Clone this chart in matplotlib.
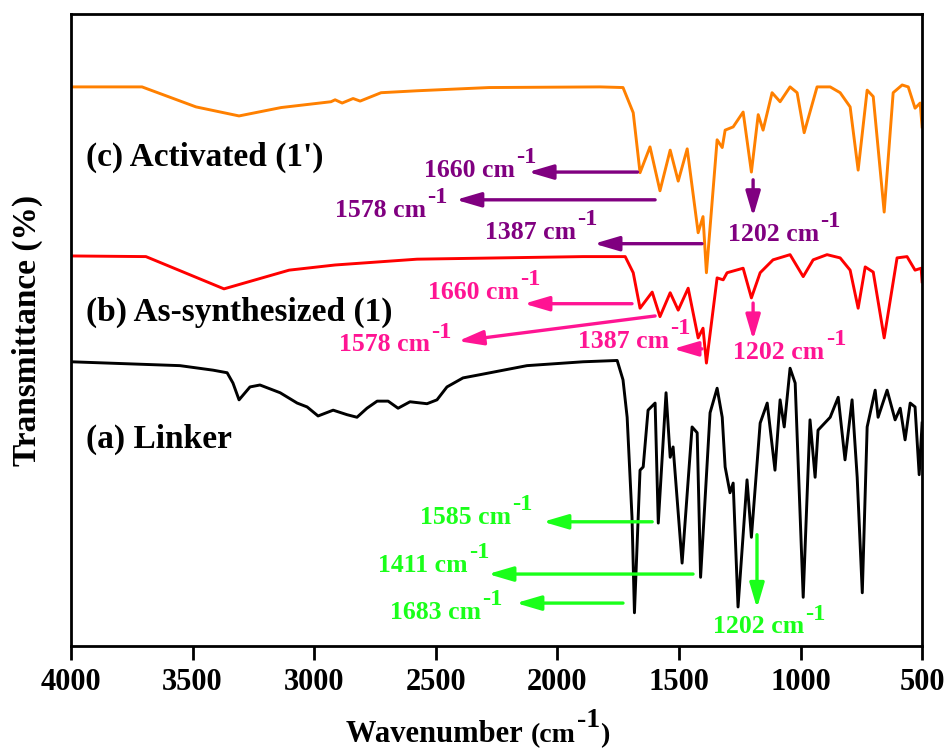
import numpy as np
import matplotlib
matplotlib.use("Agg")
import matplotlib.pyplot as plt

# ---------- DATA (wavenumber in cm-1, transmittance in offset %) ----------
wn_c = [4000, 3708, 3486, 3309, 3136, 2931, 2914, 2885, 2840, 2811, 2725, 2577, 2281, 1824,
        1730, 1688, 1660, 1619, 1578, 1536, 1503, 1466, 1421, 1401, 1387, 1343, 1322, 1310,
        1277, 1236, 1202, 1174, 1154, 1117, 1084, 1043, 1014, 985, 932, 878, 837, 796, 763,
        726, 701, 656, 619, 582, 557, 529, 508, 500]
tr_c = [86.5, 86.5, 83.4, 82.0, 83.3, 84.2, 84.5, 84.0, 84.7, 84.3, 85.6, 85.9, 86.4, 86.5,
        86.4, 82.5, 73.2, 77.2, 70.4, 76.7, 71.9, 76.9, 63.9, 66.4, 57.7, 78.3, 77.1, 79.8,
        80.3, 82.6, 73.3, 82.2, 79.8, 85.6, 84.2, 86.5, 85.6, 79.4, 86.5, 86.5, 85.6, 83.4, 73.6,
        86.0, 85.0, 67.1, 85.6, 86.8, 86.5, 83.2, 84.0, 80.3]

wn_b = [4000, 3692, 3371, 3103, 2914, 2577, 1894, 1721, 1688, 1660, 1610, 1578, 1536, 1503,
        1462, 1421, 1401, 1387, 1343, 1318, 1302, 1236, 1202, 1166, 1113, 1043, 989, 948, 891,
        837, 796, 763, 734, 701, 656, 603, 562, 529, 504, 500]
tr_b = [60.3, 60.2, 55.2, 58.1, 58.9, 59.8, 60.2, 60.2, 57.7, 52.2, 54.7, 50.9, 54.6, 51.9,
        55.3, 47.6, 49.1, 43.7, 56.9, 56.6, 57.7, 58.4, 53.8, 57.7, 59.7, 60.5, 57.1, 59.7, 60.5,
        60.0, 58.1, 52.2, 58.6, 57.8, 47.6, 60.0, 60.2, 58.1, 58.4, 56.3]

wn_a = [4000, 3552, 3416, 3358, 3334, 3309, 3264, 3223, 3140, 3070, 3029, 2984, 2922, 2865,
        2824, 2783, 2741, 2696, 2655, 2606, 2536, 2495, 2454, 2388, 2318, 2125, 1894, 1754,
        1730, 1713, 1693, 1683, 1660, 1647, 1627, 1598, 1585, 1553, 1536, 1524, 1487, 1446,
        1425, 1411, 1372, 1343, 1322, 1310, 1290, 1277, 1257, 1220, 1202, 1166, 1137, 1105,
        1084, 1067, 1043, 1022, 989, 961, 940, 928, 878, 845, 817, 788, 767, 746, 726, 693,
        681, 644, 611, 590, 570, 549, 529, 512, 500]
tr_a = [43.9, 43.3, 42.6, 42.2, 40.6, 38.0, 40.0, 40.3, 39.1, 37.5, 36.9, 35.5, 36.4, 35.7,
        35.3, 36.7, 37.8, 37.8, 36.7, 37.7, 37.4, 38.0, 40.0, 41.4, 41.9, 43.3, 43.9, 44.1,
        41.1, 35.3, 19.8, 5.0, 27.1, 27.6, 36.4, 37.5, 18.9, 39.1, 29.1, 30.7, 12.7, 33.8,
        32.9, 10.5, 36.0, 39.8, 35.3, 27.6, 23.6, 25.1, 5.9, 25.6, 16.7, 34.4, 37.5, 27.1,
        38.0, 33.8, 42.9, 40.6, 7.4, 34.9, 26.0, 33.3, 35.3, 38.4, 28.7, 38.0, 26.0, 8.1, 33.8,
        39.5, 35.3, 39.5, 34.9, 36.7, 31.8, 37.5, 36.9, 26.4, 34.4]

series_names = ["(c) Activated (1')", "(b) As-synthesized (1)", "(a) Linker"]
series_colors = ["#FF8000", "#FF0000", "#000000"]

# ---------- STYLE ----------
plt.rcParams["font.family"] = ["Liberation Serif", "DejaVu Serif"]
plt.rcParams["font.weight"] = "bold"
plt.rcParams["axes.labelweight"] = "bold"

PURPLE, PINK, GREEN = "#800080", "#FF1493", "#1AFF1A"
ANN_FS = 18.5


def label_with_sup(ax, x, y, base, sup, color, fs):
    # main text, then a raised superscript glued to its right edge
    t = ax.text(x, y, base, color=color, fontsize=fs, va="center", ha="left")
    ax.annotate(sup, xy=(1.0, 0.6), xycoords=t, xytext=(1, 0), textcoords="offset points",
                color=color, fontsize=fs * 0.95, va="bottom", ha="left")
    return t


fig = plt.figure(figsize=(9.52, 7.56), dpi=100)
ax = fig.add_axes([0.0746, 0.1455, 0.894, 0.836])

for wn, tr, col in zip([wn_c, wn_b, wn_a], [tr_c, tr_b, tr_a], series_colors):
    ax.plot(wn, tr, color=col, lw=2.1)

ax.set_xlim(4000, 500)
ax.set_ylim(-0.15, 97.8)
ax.set_xticks(np.arange(4000, 499, -500))
ax.set_yticks([])
ax.tick_params(axis="x", direction="out", length=10, width=2, labelsize=22, pad=6)
for s in ax.spines.values():
    s.set_linewidth(2)
ax.set_ylabel("Transmittance (%)", fontsize=24, labelpad=20)

# x label: "Wavenumber" + "(cm" + raised "-1" + ")"
xl = fig.text(0.557, 0.018, "Wavenumber ", fontsize=22, ha="right", va="baseline")
xl2 = fig.text(0.557, 0.018, "(cm", fontsize=20, ha="left", va="baseline")
xl3 = ax.annotate("-1", xy=(1.0, 0.6), xycoords=xl2, xytext=(1, 0), textcoords="offset points",
                  fontsize=20, va="bottom", ha="left")
ax.annotate(")", xy=(1.0, 0.0), xycoords=(xl3, xl2), xytext=(0, 0), textcoords="offset points",
            fontsize=20, va="bottom", ha="left")

# series labels
for name, y in zip(series_names, [75.5, 51.5, 31.8]):
    ax.text(3938, y, name, fontsize=24, va="center", ha="left")

# peak annotations: (label, text x, text y, arrow tail, arrow head, colour)
annotations = [
    ("1660", 2548, 73.6, (1670, 73.3), (2120, 73.3), PURPLE),
    ("1578", 2914, 67.4, (1598, 69.0), (2417, 69.0), PURPLE),
    ("1387", 2297, 64.0, (1405, 62.2), (1849, 62.2), PURPLE),
    ("1202", 1298, 63.6, (1195, 72.1), (1195, 66.4), PURPLE),
    ("1660", 2532, 54.6, (1693, 52.9), (2137, 52.9), PINK),
    ("1578", 2898, 46.5, (1598, 51.0), (2408, 47.1), PINK),
    ("1387", 1915, 47.0, (1405, 45.9), (1524, 45.9), PINK),
    ("1202", 1277, 45.3, (1195, 53.0), (1195, 47.3), PINK),
    ("1585", 2565, 19.8, (1610, 19.1), (2059, 19.1), GREEN),
    ("1411", 2737, 12.4, (1442, 11.0), (2285, 11.0), GREEN),
    ("1683", 2688, 5.0, (1730, 6.5), (2170, 6.5), GREEN),
    ("1202", 1360, 2.8, (1179, 17.1), (1179, 5.7), GREEN),
]
for lab, tx, ty, tail, head, col in annotations:
    label_with_sup(ax, tx, ty, lab + " cm", "-1", col, ANN_FS)
    ax.annotate("", xy=head, xytext=tail,
                arrowprops=dict(arrowstyle="-|>,head_length=0.75,head_width=0.22",
                                color=col, lw=2.4, mutation_scale=20,
                                shrinkA=0, shrinkB=0))

fig.savefig("out.png", dpi=100)
